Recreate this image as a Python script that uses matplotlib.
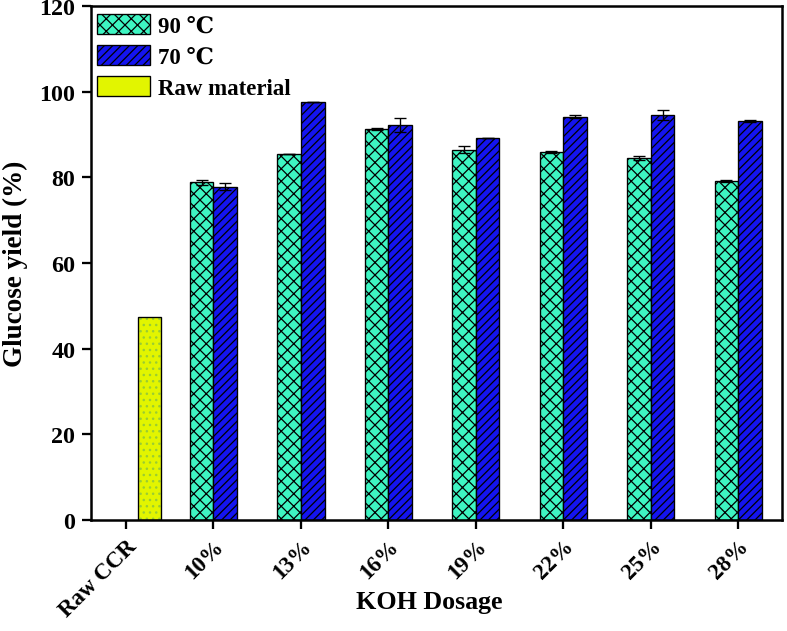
import matplotlib
matplotlib.use("Agg")
import matplotlib.pyplot as plt
from matplotlib.patches import Patch
import numpy as np

categories = ["Raw CCR", "10%", "13%", "16%", "19%", "22%", "25%", "28%"]
yield_90 = [np.nan, 78.8, 85.5, 91.3, 86.5, 85.9, 84.6, 79.1]
err_90 = [0, 0.5, 0.0, 0.3, 0.8, 0.2, 0.5, 0.3]
yield_70 = [np.nan, 77.8, 97.6, 92.3, 89.3, 94.2, 94.6, 93.2]
err_70 = [0, 0.8, 0.0, 1.6, 0.0, 0.3, 1.2, 0.3]
raw_value = [47.5, np.nan, np.nan, np.nan, np.nan, np.nan, np.nan, np.nan]
y_ticks = [0, 20, 40, 60, 80, 100, 120]

DPI = 75
plt.rcParams['font.family'] = ['Liberation Serif', 'DejaVu Serif']
plt.rcParams['font.weight'] = 'bold'
plt.rcParams['hatch.linewidth'] = 1.2

fig = plt.figure(figsize=(787 / DPI, 632 / DPI), dpi=DPI)
ax = fig.add_axes([0.1156, 0.1756, 0.9936 - 0.1156, 0.9889 - 0.1756])

x = np.arange(len(categories))
w = 0.27
green = '#3EF5C2'
blue = '#1414F0'
yellow = '#E2F500'

b1 = ax.bar(x - w / 2, yield_90, w, color=green, edgecolor='black', linewidth=1.3,
            hatch='xx', label='90 \u2103', zorder=2)
b2 = ax.bar(x + w / 2, yield_70, w, color=blue, edgecolor='black', linewidth=1.3,
            hatch='///', label='70 \u2103', zorder=2)
ax.bar(x + w, raw_value, w, color=yellow, edgecolor='#9ACD32', linewidth=0,
       hatch='..', zorder=2)
ax.bar(x + w, raw_value, w, color='none', edgecolor='black', linewidth=1.3, zorder=3)

ax.errorbar(x - w / 2, yield_90, yerr=err_90, fmt='none', ecolor='black',
            elinewidth=1.3, capsize=6, capthick=1.3, zorder=4)
ax.errorbar(x + w / 2, yield_70, yerr=err_70, fmt='none', ecolor='black',
            elinewidth=1.3, capsize=6, capthick=1.3, zorder=4)

h_raw = Patch(facecolor=yellow, edgecolor='black', linewidth=1.3, label='Raw material')

leg = ax.legend(handles=[b1, b2, h_raw], loc='upper left', bbox_to_anchor=(0.008, 0.985),
                frameon=False, fontsize=22, handlelength=2.35, handleheight=1.0,
                handletextpad=0.35, labelspacing=0.35, borderpad=0, borderaxespad=0)
for t in leg.get_texts():
    t.set_fontweight('bold')

ax.set_xlim(-0.40, 7.50)
ax.set_ylim(0, 120)
ax.set_yticks(y_ticks)
ax.set_xticks(x)
ax.set_xticklabels(categories, rotation=45, ha='right', rotation_mode='anchor')
ax.tick_params(axis='both', labelsize=22, width=2.2, length=9, direction='out', pad=6)
ax.tick_params(axis='y', labelsize=23)
for lab in ax.get_xticklabels() + ax.get_yticklabels():
    lab.set_fontweight('bold')

for s in ax.spines.values():
    s.set_linewidth(2.4)

ax.set_ylabel('Glucose yield (%)', fontsize=26, fontweight='bold', labelpad=11)
ax.set_xlabel('KOH Dosage', fontsize=25, fontweight='bold')
ax.xaxis.set_label_coords(0.49, -0.136)
ax.xaxis.label.set_verticalalignment('top')

fig.savefig('out.png', dpi=DPI)
